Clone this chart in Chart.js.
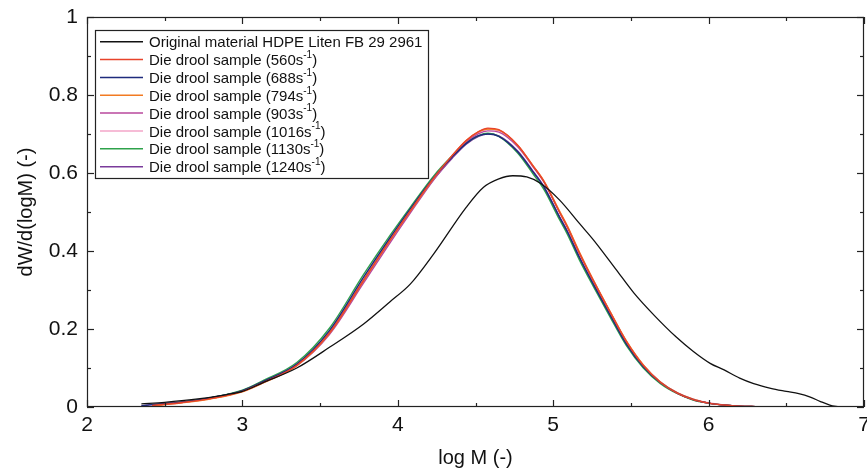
<!DOCTYPE html>
<html><head><meta charset="utf-8">
<script src="https://cdn.jsdelivr.net/npm/chart.js@4/dist/chart.umd.min.js"></script>
<style>html,body{margin:0;padding:0;background:#fff;}#wrap{width:867px;height:473px;}</style>
</head><body><div id="wrap"><canvas id="c" width="867" height="473"></canvas></div>
<script>
// ---- data ----
const originalLabel = 'Original material HDPE Liten FB 29 2961';
const originalX = [2.35,2.5,2.7,2.9,3.0,3.13,3.35,3.56,3.78,3.95,4.08,4.23,4.44,4.55,4.65,4.74,4.83,4.92,5.04,5.17,5.26,5.4,5.52,5.65,5.79,5.9,6.01,6.1,6.2,6.29,6.4,6.5,6.58,6.65,6.72,6.78,6.84];
const originalY = [0.008,0.012,0.020,0.032,0.040,0.062,0.100,0.153,0.213,0.270,0.315,0.392,0.512,0.563,0.585,0.593,0.590,0.573,0.531,0.470,0.428,0.355,0.292,0.235,0.180,0.143,0.112,0.095,0.074,0.060,0.048,0.040,0.034,0.026,0.014,0.005,0.0];

const shearRates = ['560','688','794','903','1016','1130','1240'];
const droolX = [2.35,2.42,2.6,2.8,3.0,3.13,3.35,3.56,3.78,3.95,4.08,4.23,4.35,4.44,4.52,4.58,4.65,4.77,4.87,4.94,5.04,5.09,5.17,5.26,5.37,5.47,5.58,5.69,5.8,5.9,6.0,6.1,6.2,6.3,6.48];
const drool560  = [null,.004,.011,.022,.040,.062,.107,.190,.325,.428,.503,.587,.645,.683,.706,.715,.711,.672,.618,.578,.500,.462,.393,.322,.240,.168,.106,.063,.035,.019,.010,.005,.002,.001,0];
const drool688  = [.003,.006,.012,.024,.042,.065,.110,.196,.333,.434,.508,.588,.641,.676,.696,.700,.694,.655,.603,.564,.487,.450,.382,.313,.233,.162,.103,.062,.035,.019,.010,.005,.002,.001,0];
const drool794  = [null,.003,.010,.021,.039,.061,.106,.189,.324,.427,.502,.586,.644,.683,.706,.713,.710,.672,.619,.580,.503,.465,.396,.324,.242,.170,.108,.064,.036,.020,.010,.005,.002,.001,0];
const drool903  = [null,.004,.011,.022,.040,.063,.106,.186,.318,.421,.497,.582,.640,.679,.701,.708,.705,.668,.616,.577,.500,.463,.394,.323,.241,.169,.107,.064,.036,.020,.010,.005,.002,.001,0];
const drool1016 = [null,.004,.011,.022,.040,.062,.106,.188,.322,.425,.500,.585,.643,.681,.704,.712,.709,.671,.618,.579,.502,.464,.395,.324,.241,.169,.107,.064,.036,.020,.011,.005,.002,.001,0];
const drool1130 = [null,.005,.012,.024,.043,.067,.114,.202,.340,.440,.512,.592,.644,.677,.696,.702,.694,.652,.598,.558,.481,.444,.376,.308,.228,.158,.100,.060,.034,.018,.010,.005,.002,.001,0];
const drool1240 = [.003,.006,.012,.024,.042,.065,.109,.192,.326,.428,.502,.583,.638,.674,.694,.700,.695,.657,.605,.566,.489,.452,.384,.315,.235,.164,.104,.063,.035,.019,.010,.005,.002,.001,0];
const droolSeries = [drool560,drool688,drool794,drool903,drool1016,drool1130,drool1240];

const xTickValues = [2,3,4,5,6,7];
const yTickValues = [0,0.2,0.4,0.6,0.8,1];

// ---- styles ----
const droolColors = ['#e8432b','#1e2b7c','#f27b22','#b8489d','#f3a6c8','#2ea24b','#7a3b9b'];
const FONT = "'Liberation Sans', Arial, sans-serif";

const toPts = (xs, ys) => xs.map((x,i)=>({x:x, y:ys[i]}));
const datasets = [{
  label: originalLabel, data: toPts(originalX, originalY),
  borderColor:'#111', borderWidth:1.3, pointRadius:0, tension:0.4, cubicInterpolationMode:'monotone', fill:false
}];
droolSeries.forEach((ys,i)=>{
  datasets.push({
    label: 'Die drool sample (' + shearRates[i] + 's⁻¹)', data: toPts(droolX, ys),
    borderColor: droolColors[i], borderWidth:1.4, pointRadius:0, tension:0.4, cubicInterpolationMode:'monotone', fill:false, spanGaps:false
  });
});

const framePlugin = {
  id:'frame',
  afterDatasetsDraw(chart){
    const {ctx, chartArea:{left,right,top,bottom}, scales:{x,y}} = chart;
    ctx.save();
    ctx.strokeStyle='#222'; ctx.lineWidth=1.2;
    ctx.strokeRect(left+0.5, top+0.5, right-left-1, bottom-top-1);
    const ln=(a,b,c,d)=>{ctx.beginPath();ctx.moveTo(a,b);ctx.lineTo(c,d);ctx.stroke();};
    for (let k=0;k<=10;k++){
      const v = x.min + k*0.5; const px = Math.round(x.getPixelForValue(v))+0.5;
      const len = (k%2===0)?7:4;
      ln(px,bottom,px,bottom-len); ln(px,top,px,top+len);
    }
    for (let k=0;k<=10;k++){
      const v = y.min + k*0.1; const py = Math.round(y.getPixelForValue(v))+0.5;
      const len = (k%2===0)?7:4;
      ln(left,py,left+len,py); ln(right,py,right-len,py);
    }
    ctx.restore();
  },
  afterDraw(chart){
    const ctx = chart.ctx;
    ctx.save();
    const bx=95, by=30, bw=333, bh=148;
    ctx.fillStyle='#fff'; ctx.fillRect(bx,by,bw,bh);
    ctx.strokeStyle='#222'; ctx.lineWidth=1.2; ctx.strokeRect(bx+0.5,by+0.5,bw,bh);
    chart.data.datasets.forEach((ds,i)=>{
      const yy = 41.7 + i*17.85;
      ctx.strokeStyle = ds.borderColor; ctx.lineWidth=1.5;
      ctx.beginPath(); ctx.moveTo(100,yy); ctx.lineTo(143,yy); ctx.stroke();
      ctx.fillStyle='#111'; ctx.textBaseline='middle'; ctx.textAlign='left';
      ctx.font = '15px ' + FONT;
      const m = ds.label.match(/^(.*)⁻¹(\))$/);
      let tx = 149;
      const ty = yy + 1.5;
      if (m){
        ctx.fillText(m[1], tx, ty); tx += ctx.measureText(m[1]).width;
        ctx.font = '10px ' + FONT;
        ctx.fillText('-1', tx, ty-6); tx += ctx.measureText('-1').width;
        ctx.font = '15px ' + FONT;
        ctx.fillText(m[2], tx, ty);
      } else {
        ctx.fillText(ds.label, tx, ty);
      }
    });
    ctx.restore();
  }
};

const fmt = v => String(Number(v.toFixed(1)));

new Chart(document.getElementById('c'), {
  type:'line',
  data:{datasets},
  options:{
    responsive:false, animation:false, devicePixelRatio:1,
    layout:{padding:{top:17,right:3,left:0,bottom:0}},
    plugins:{legend:{display:false}, tooltip:{enabled:false}},
    scales:{
      x:{type:'linear', min:2, max:7,
        afterBuildTicks: s => { s.ticks = xTickValues.map(v=>({value:v})); },
        ticks:{color:'#111', font:{family:FONT,size:21}, padding:6, callback:v=>fmt(v), maxRotation:0, autoSkip:false},
        grid:{display:false, drawTicks:false}, border:{display:false},
        title:{display:true, text:'log M (-)', color:'#111', font:{family:FONT,size:20}, padding:{top:0,bottom:3}},
        afterFit: s => { s.height = 66; s.paddingLeft=0; s.paddingRight=0; }
      },
      y:{type:'linear', min:0, max:1,
        afterBuildTicks: s => { s.ticks = yTickValues.map(v=>({value:v})); },
        ticks:{color:'#111', font:{family:FONT,size:21}, padding:9, callback:v=>fmt(v)},
        grid:{display:false, drawTicks:false}, border:{display:false},
        title:{display:true, text:'dW/d(logM) (-)', color:'#111', font:{family:FONT,size:20}, padding:{top:14,bottom:0}},
        afterFit: s => { s.width = 87; s.paddingTop=0; s.paddingBottom=0; }
      }
    }
  },
  plugins:[framePlugin]
});
</script>
</body></html>
